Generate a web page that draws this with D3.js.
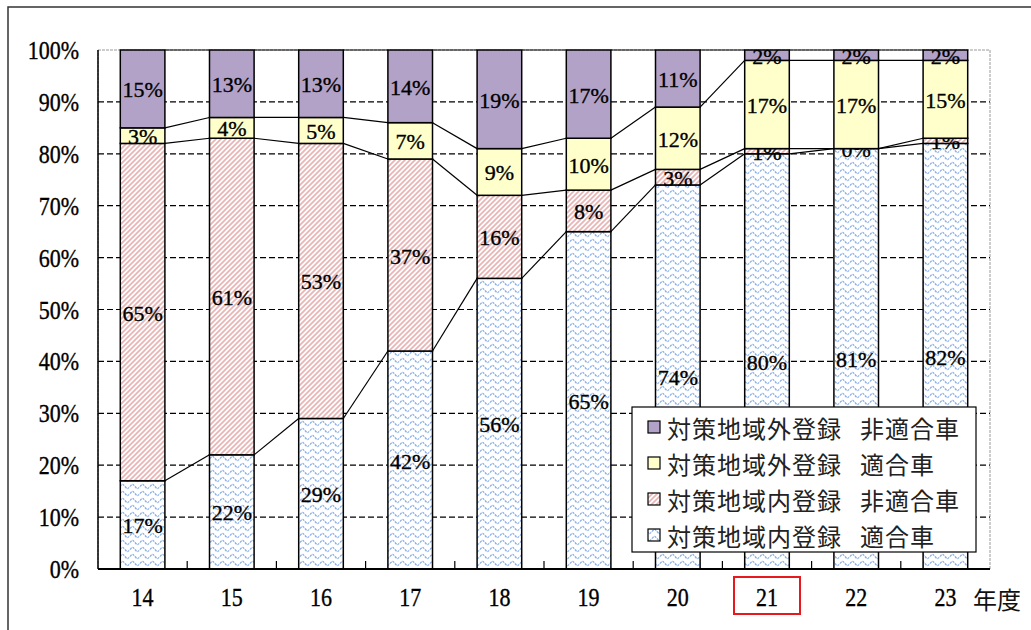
<!DOCTYPE html>
<html>
<head>
<meta charset="utf-8">
<script src="https://cdn.jsdelivr.net/npm/d3@7"></script>
<style>
  html, body { margin: 0; padding: 0; background: #fff; }
  svg { display: block; }
</style>
</head>
<body>
<svg id="chart" width="1031" height="630"></svg>
<script>
// Fiscal years (平成) on the category axis
const years = ["14", "15", "16", "17", "18", "19", "20", "21", "22", "23"];

// Share of vehicles by registration area and emission compliance (%)
const inCompliant     = [17, 22, 29, 42, 56, 65, 74, 80, 81, 82]; // 対策地域内登録 適合車
const inNonCompliant  = [65, 61, 53, 37, 16,  8,  3,  1,  0,  1]; // 対策地域内登録 非適合車
const outCompliant    = [ 3,  4,  5,  7,  9, 10, 12, 17, 17, 15]; // 対策地域外登録 適合車
const outNonCompliant = [15, 13, 13, 14, 19, 17, 11,  2,  2,  2]; // 対策地域外登録 非適合車

const yTicks = [0, 10, 20, 30, 40, 50, 60, 70, 80, 90, 100];
const highlightYear = "21";

const series = [
  { key: "inC",  name: "対策地域内登録", sub: "適合車",   values: inCompliant,     fill: "url(#wave)" },
  { key: "inN",  name: "対策地域内登録", sub: "非適合車", values: inNonCompliant,  fill: "url(#stripe)" },
  { key: "outC", name: "対策地域外登録", sub: "適合車",   values: outCompliant,    fill: "#ffffcc" },
  { key: "outN", name: "対策地域外登録", sub: "非適合車", values: outNonCompliant, fill: "#b3a2c8" }
];

const svg = d3.select("#chart");
const serif = "'Liberation Serif', 'DejaVu Serif', serif";
const cjk = "'Noto Sans CJK JP', 'Noto Sans', sans-serif";

// Fill patterns
const defs = svg.append("defs");
const wave = defs.append("pattern")
  .attr("id", "wave").attr("patternUnits", "userSpaceOnUse")
  .attr("width", 10).attr("height", 7);
wave.append("rect").attr("width", 10).attr("height", 7).attr("fill", "#fff");
wave.append("path")
  .attr("d", "M0,3.5 C2.5,0.6 2.5,0.6 5,3.5 C7.5,6.4 7.5,6.4 10,3.5")
  .attr("fill", "none").attr("stroke", "#88afe8").attr("stroke-width", 1.2)
  .attr("stroke-dasharray", "2.4 0.9");

const stripe = defs.append("pattern")
  .attr("id", "stripe").attr("patternUnits", "userSpaceOnUse")
  .attr("width", 5).attr("height", 5);
stripe.append("rect").attr("width", 5).attr("height", 5).attr("fill", "#fff");
stripe.append("path")
  .attr("d", "M-1,1 L1,-1 M0,5 L5,0 M4,6 L6,4")
  .attr("stroke", "#eab4b4").attr("stroke-width", 1.7);

// Outer frame
svg.append("rect")
  .attr("x", 8).attr("y", 7).attr("width", 1040).attr("height", 640)
  .attr("fill", "none").attr("stroke", "#333").attr("stroke-width", 1.5);

// Plot geometry
const plotLeft = 98, plotRight = 990, plotTop = 50, plotBottom = 569;

const x = d3.scaleBand().domain(years).range([plotLeft, plotRight])
  .paddingInner(0.5).paddingOuter(0.25);
const y = d3.scaleLinear().domain([0, 100]).range([plotBottom, plotTop]);

// Plot border (light) and dashed gridlines
svg.append("rect")
  .attr("x", plotLeft).attr("y", plotTop)
  .attr("width", plotRight - plotLeft).attr("height", plotBottom - plotTop)
  .attr("fill", "none").attr("stroke", "#9a9a9a").attr("stroke-width", 1)
  .attr("stroke-dasharray", "3 1");

svg.append("g").selectAll("line")
  .data(yTicks.filter(t => t > 0 && t < 100))
  .join("line")
  .attr("x1", plotLeft).attr("x2", plotRight)
  .attr("y1", d => y(d)).attr("y2", d => y(d))
  .attr("stroke", "#000").attr("stroke-width", 1.2)
  .attr("stroke-dasharray", "6 3");

// Stacked data
const rows = years.map((yr, i) => {
  const r = { year: yr };
  series.forEach(s => { r[s.key] = s.values[i]; });
  return r;
});
const stack = d3.stack().keys(series.map(s => s.key))(rows);

// Bars
const layers = svg.append("g").selectAll("g")
  .data(stack)
  .join("g")
  .attr("fill", (d, i) => series[i].fill);

layers.selectAll("rect")
  .data(d => d)
  .join("rect")
  .attr("x", d => x(d.data.year))
  .attr("width", x.bandwidth())
  .attr("y", d => y(d[1]))
  .attr("height", d => y(d[0]) - y(d[1]))
  .attr("stroke", "#000").attr("stroke-width", 1.5);

// Series lines between adjacent bars at each stacked boundary
const seriesLines = [];
stack.forEach(layer => {
  for (let i = 0; i < years.length - 1; i++) {
    seriesLines.push({
      x1: x(years[i]) + x.bandwidth(), y1: y(layer[i][1]),
      x2: x(years[i + 1]),             y2: y(layer[i + 1][1])
    });
  }
});
svg.append("g").selectAll("line")
  .data(seriesLines)
  .join("line")
  .attr("x1", d => d.x1).attr("y1", d => d.y1)
  .attr("x2", d => d.x2).attr("y2", d => d.y2)
  .attr("stroke", "#000").attr("stroke-width", 1.2);

// Axis lines
svg.append("line")
  .attr("x1", plotLeft).attr("x2", plotLeft).attr("y1", plotTop).attr("y2", plotBottom)
  .attr("stroke", "#000").attr("stroke-width", 1.5);
svg.append("line")
  .attr("x1", plotLeft).attr("x2", plotRight).attr("y1", plotBottom).attr("y2", plotBottom)
  .attr("stroke", "#000").attr("stroke-width", 2);

// Category boundary ticks (pointing up inside the plot)
const step = x.step();
const boundaries = d3.range(1, years.length).map(i => plotLeft + i * step);
svg.append("g").selectAll("line")
  .data(boundaries)
  .join("line")
  .attr("x1", d => d).attr("x2", d => d)
  .attr("y1", plotBottom).attr("y2", plotBottom - 8)
  .attr("stroke", "#000").attr("stroke-width", 1.2);

// Value labels
layers.selectAll("text")
  .data(d => d)
  .join("text")
  .attr("x", d => x(d.data.year) + x.bandwidth() / 2)
  .attr("y", d => (y(d[0]) + y(d[1])) / 2 + 1)
  .attr("text-anchor", "middle")
  .attr("dominant-baseline", "central")
  .attr("fill", "#000").attr("stroke", "#000").attr("stroke-width", 0.35)
  .attr("font-family", serif).attr("font-size", 22)
  .text(d => (d[1] - d[0]) + "%");

// Axis labels are a little condensed
const squeeze = 0.88;

// Y axis labels
const yAxis = d3.axisLeft(y).tickValues(yTicks).tickSize(0).tickPadding(0)
  .tickFormat(d => d + "%");
const gy = svg.append("g").attr("transform", `translate(${plotLeft},0)`).call(yAxis);
gy.select(".domain").remove();
gy.selectAll("text")
  .attr("x", -19 / squeeze)
  .attr("transform", `scale(${squeeze},1)`)
  .attr("dy", "0.34em")
  .attr("font-family", serif).attr("font-size", 25)
  .attr("fill", "#000").attr("stroke", "#000").attr("stroke-width", 0.35);

// X axis labels
const xAxis = d3.axisBottom(x).tickSize(0).tickPadding(0);
const gx = svg.append("g").attr("transform", `translate(0,${plotBottom})`).call(xAxis);
gx.select(".domain").remove();
gx.selectAll("text")
  .attr("y", 37).attr("dy", 0)
  .attr("transform", `scale(${squeeze},1)`)
  .attr("font-family", serif).attr("font-size", 25)
  .attr("fill", "#000").attr("stroke", "#000").attr("stroke-width", 0.35);

// Axis unit
svg.append("text")
  .attr("x", 973).attr("y", 598)
  .attr("dominant-baseline", "central")
  .attr("font-family", cjk).attr("font-size", 24).attr("fill", "#111")
  .text("年度");

// Highlight box around one fiscal year
svg.append("rect")
  .attr("x", x(highlightYear) + x.bandwidth() / 2 - 33)
  .attr("y", 577).attr("width", 66).attr("height", 37)
  .attr("fill", "none").attr("stroke", "#e8191c").attr("stroke-width", 2);

// Legend (drawn on top of the bars)
const legend = svg.append("g").attr("transform", "translate(632,407)");
legend.append("rect")
  .attr("width", 344).attr("height", 145)
  .attr("fill", "#fff").attr("stroke", "#000").attr("stroke-width", 1.2);

const legendItems = series.slice().reverse();
const li = legend.selectAll("g.item")
  .data(legendItems)
  .join("g")
  .attr("class", "item")
  .attr("transform", (d, i) => `translate(0,${20 + i * 36})`);

li.append("rect")
  .attr("x", 16).attr("y", -6).attr("width", 12).attr("height", 12)
  .attr("fill", d => d.fill).attr("stroke", "#000").attr("stroke-width", 1.2);

const lt = li.append("text")
  .attr("x", 35).attr("y", 0)
  .attr("dominant-baseline", "central")
  .attr("font-family", cjk).attr("font-size", 24).attr("letter-spacing", 1)
  .attr("fill", "#222");
lt.append("tspan").text(d => d.name);
lt.append("tspan").attr("x", 228).text(d => d.sub);
</script>
</body>
</html>
